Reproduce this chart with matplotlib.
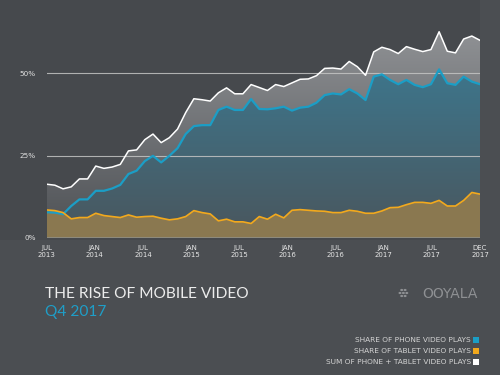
import numpy as np
import matplotlib
matplotlib.use("Agg")
import matplotlib.pyplot as plt
from matplotlib.patches import Rectangle, Circle

# ---- data (share of video plays, %) ----
phone = [7.8, 7.7, 7.2, 9.7, 11.7, 11.7, 14.3, 14.3, 15.0, 16.1,
         19.4, 20.4, 23.3, 24.9, 22.9, 24.9, 27.2, 31.5, 33.9, 34.2,
         34.2, 38.8, 39.8, 38.8, 38.8, 42.1, 39.1, 39.0, 39.3, 39.8,
         38.6, 39.5, 39.8, 41.0, 43.3, 43.8, 43.5, 45.1, 43.8, 41.8,
         48.9, 49.6, 47.9, 46.6, 47.9, 46.4, 45.7, 46.6, 51.1, 46.9,
         46.4, 48.9, 47.4, 46.6]
tablet = [8.5, 8.3, 7.7, 5.8, 6.2, 6.2, 7.5, 6.8, 6.5, 6.2,
          7.0, 6.3, 6.5, 6.6, 6.0, 5.5, 5.8, 6.5, 8.3, 7.7,
          7.3, 5.2, 5.7, 4.9, 4.9, 4.4, 6.5, 5.7, 7.2, 6.1,
          8.4, 8.6, 8.4, 8.2, 8.1, 7.7, 7.7, 8.4, 8.1, 7.5,
          7.5, 8.2, 9.2, 9.3, 10.1, 10.8, 10.8, 10.5, 11.4, 9.7,
          9.7, 11.4, 13.8, 13.3]
total = [p + t for p, t in zip(phone, tablet)]

tick_labels = ["JUL\n2013", "JAN\n2014", "JUL\n2014", "JAN\n2015", "JUL\n2015",
               "JAN\n2016", "JUL\n2016", "JAN\n2017", "JUL\n2017", "DEC\n2017"]
tick_months = [0, 6, 12, 18, 24, 30, 36, 42, 48, 54]
y_ticks = [0, 25, 50]
y_labels = ["0%", "25%", "50%"]
legend_labels = ["SHARE OF PHONE VIDEO PLAYS", "SHARE OF TABLET VIDEO PLAYS",
                 "SUM OF PHONE + TABLET VIDEO PLAYS"]

BG = "#4b4e52"
PLOT_BG = "#46494d"
BLUE = "#1b9ec6"
ORANGE = "#f2a91d"
WHITE = "#ffffff"

x = np.linspace(0, 54, len(phone))

fig = plt.figure(figsize=(5, 3.75), dpi=100, facecolor=BG)

# darker panel behind chart (separate background axes)
bg_ax = fig.add_axes([0, (375 - 240) / 375, 480 / 500, 240 / 375], zorder=-5)
bg_ax.set_facecolor(PLOT_BG)
bg_ax.set_xticks([])
bg_ax.set_yticks([])
for s in bg_ax.spines.values():
    s.set_visible(False)

ax = fig.add_axes([46.7 / 500, (375 - 238) / 375, 433.3 / 500, 214.5 / 375], zorder=1)
ax.set_facecolor("none")
for s in ax.spines.values():
    s.set_visible(False)


def hex2rgb(h):
    h = h.lstrip("#")
    return [int(h[i:i + 2], 16) / 255 for i in (0, 2, 4)]


def gradient_fill(y_low, y_high, top_hex, bot_hex, zorder):
    poly = ax.fill_between(x, y_low, y_high, facecolor="none", edgecolor="none")
    n = 256
    t = np.linspace(0, 1, n)[:, None]
    top = np.array(hex2rgb(top_hex))
    bot = np.array(hex2rgb(bot_hex))
    img = bot + (top - bot) * t
    img = np.repeat(img[:, None, :], 2, axis=1)
    im = ax.imshow(img, extent=[0, 54, 0, 65], origin="lower", aspect="auto",
                   zorder=zorder, interpolation="bilinear")
    im.set_clip_path(poly.get_paths()[0], transform=ax.transData)
    return im


gradient_fill(np.zeros(len(x)), total, "#929497", "#4d5054", 1)
gradient_fill(np.zeros(len(x)), phone, "#3a7e98", "#4a565d", 2)
ax.fill_between(x, 0, tablet, facecolor="#8a7850", edgecolor="none", zorder=3)
ax.set_xlim(0, 54)
ax.set_ylim(0, 65)

# grid lines
for yv in [25, 50]:
    ax.axhline(yv, color="#c4c4c4", lw=0.8, zorder=4, alpha=0.85)
ax.axhline(0, color="#8d8a7c", lw=2.2, zorder=4)

ax.plot(x, total, color=WHITE, lw=1.1, zorder=6)
ax.plot(x, phone, color=BLUE, lw=1.6, zorder=5)
ax.plot(x, tablet, color=ORANGE, lw=1.2, zorder=5)

ax.set_xticks(tick_months)
ax.set_xticklabels(tick_labels, fontsize=5, color="#e6e6e6", linespacing=1.25)
ax.set_yticks(y_ticks)
ax.set_yticklabels(y_labels, fontsize=5.2, color="#e0e0e0")
ax.tick_params(axis="both", length=0)
ax.tick_params(axis="x", pad=5)
ax.tick_params(axis="y", pad=8)

# titles
fig.text(45 / 500, 1 - 297.5 / 375, "THE RISE OF MOBILE VIDEO", fontsize=11.2,
         color="#ececec", family="Lato", ha="left", va="baseline")
fig.text(45 / 500, 1 - 316 / 375, "Q4 2017", fontsize=11.2,
         color="#1f9ec8", family="Lato", ha="left", va="baseline")

# logo
fig.text(478 / 500, 1 - 297.5 / 375, "OOYALA", fontsize=10, color="#8e9093",
         family="DejaVu Sans", ha="right", va="baseline")
for (dx, dy) in [(0, 0), (3.4, 0), (6.8, 0), (1.7, 3), (5.1, 3), (1.7, -3), (5.1, -3)]:
    fig.patches.append(Circle(((400 + dx) / 500, 1 - (293 - dy) / 375), 1.5 / 500,
                              transform=fig.transFigure, facecolor="#8e9093",
                              edgecolor="none"))

# legend
legend_colors = [BLUE, ORANGE, WHITE]
for i, (lab, col) in enumerate(zip(legend_labels, legend_colors)):
    yc = 340 + i * 11
    fig.text(471 / 500, 1 - yc / 375, lab, fontsize=5.3, color="#d4d4d4",
             ha="right", va="center")
    fig.patches.append(Rectangle((473 / 500, 1 - (yc + 3) / 375), 6 / 500, 6 / 375,
                                 transform=fig.transFigure, facecolor=col,
                                 edgecolor="none"))

fig.savefig("out.png", dpi=100, facecolor=BG)
